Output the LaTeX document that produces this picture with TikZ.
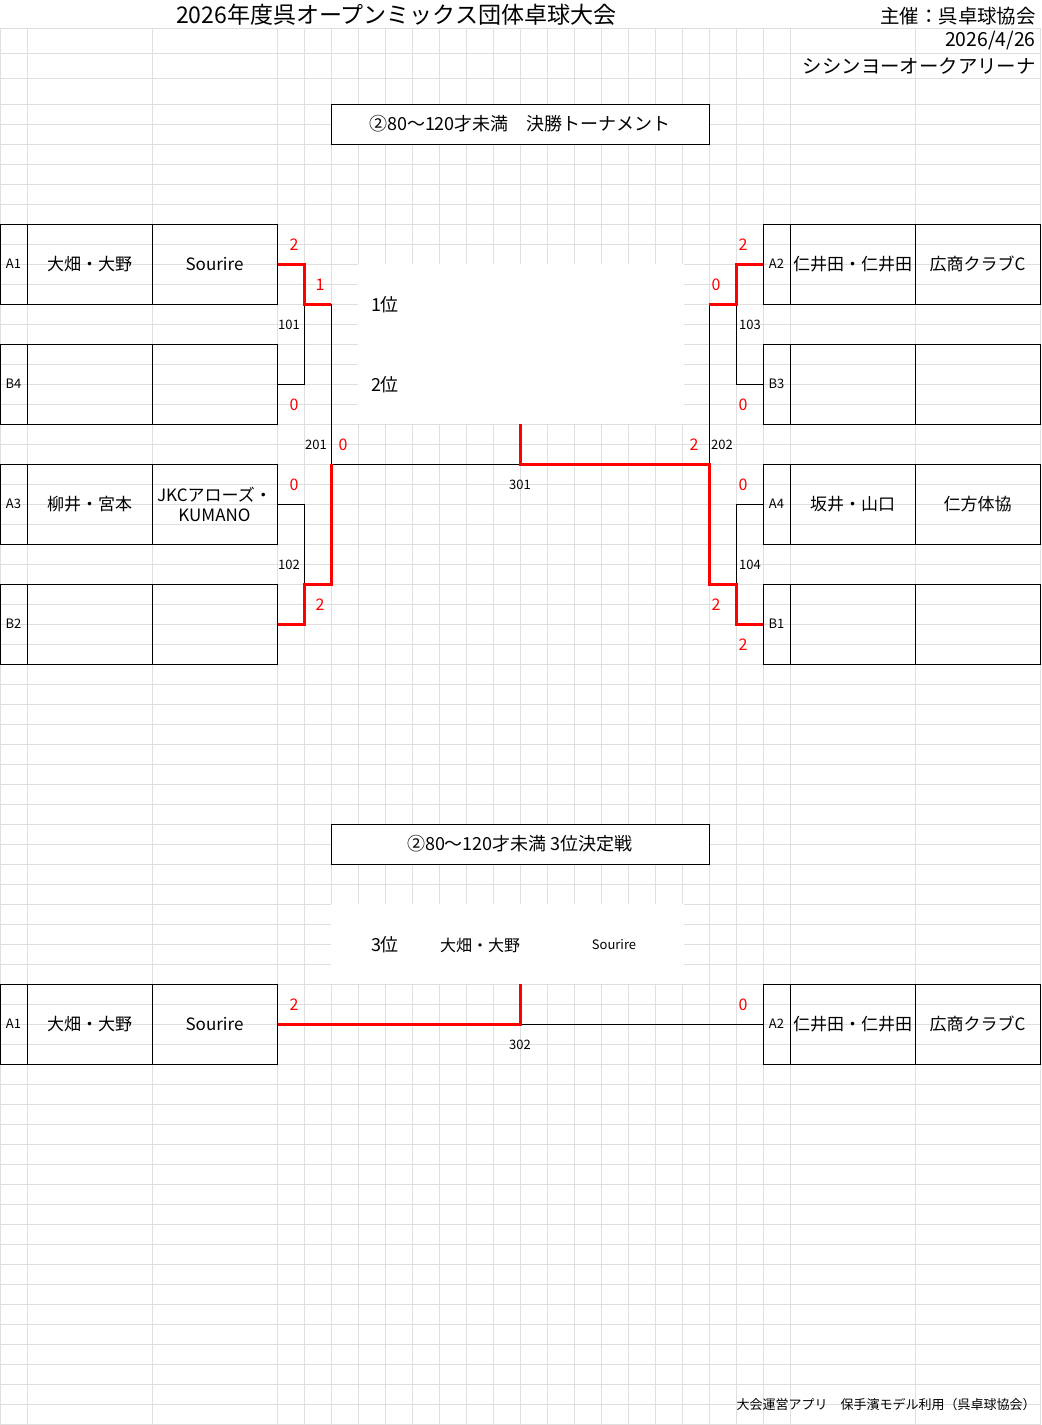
\documentclass[tikz,border=0pt]{standalone}
\usepackage{fontspec}
\setmainfont{Noto Sans CJK JP}
\usetikzlibrary{positioning}
\tikzset{
  grid line/.style={gray!25, line width=0.5pt},
  cell/.style={draw=black, line width=0.5pt, rectangle, inner sep=0pt,
    minimum height=40pt, font=\fontsize{8.5}{10}\selectfont, align=center},
  tag/.style={font=\fontsize{6.5}{7}\selectfont, inner sep=0pt},
  score/.style={font=\fontsize{8}{9}\selectfont, text=red, inner sep=0pt},
  lose/.style={draw=black, line width=0.5pt},
  win/.style={draw=red, line width=1.5pt},
  heading/.style={draw=black, line width=0.5pt, fill=white, minimum width=189pt,
    minimum height=20pt, font=\fontsize{9}{10}\selectfont},
  info/.style={font=\fontsize{9.7}{10}\selectfont, anchor=east, inner sep=0pt}
}
% #1 id, #2 left x, #3 top y, #4 seed, #5 players, #6 club
\newcommand\teamrow[6]{%
  \node[cell, minimum width=13.5pt, tag] (#1l) at (#2+13.5,#3+40) {#4};
  \node[cell, minimum width=62.5pt] (#1n) at (#2+89.5,#3+40) {#5};
  \node[cell, minimum width=62.5pt] (#1c) at (#2+214.5,#3+40) {#6};
}
\begin{document}
\begin{tikzpicture}[x=0.5pt,y=-0.5pt]
\useasboundingbox (0,0) rectangle (1041,1425);
\fill[white] (0,0) rectangle (1041,1425);
% grid
\foreach \y in {28,53,78} \draw[grid line] (0,\y) -- (1041,\y);
\foreach \y in {104,124,...,1424} \draw[grid line] (0,\y) -- (1041,\y);
\foreach \x in {0,27,152,277,304,...,736,763,790,915,1040} \draw[grid line] (\x,28) -- (\x,1425);
\fill[white] (358,264) rectangle (684,424);
\fill[white] (331,904) rectangle (684,984);

% header
\node[font=\fontsize{11.5}{12}\selectfont] (title) at (396,15) {2026年度呉オープンミックス団体卓球大会};
\node[info] (host) at (1036,16) {主催：呉卓球協会};
\node[info] (date) at (1036,41) {2026/4/26};
\node[info] (venue) at (1036,66) {シシンヨーオークアリーナ};
\node[heading] (head1) at (520,124) {②80～120才未満　決勝トーナメント};

% teams
\teamrow{a1}{0}{224}{A1}{大畑・大野}{Sourire}
\teamrow{b4}{0}{344}{B4}{}{}
\teamrow{a3}{0}{464}{A3}{柳井・宮本}{JKCアローズ・\\KUMANO}
\teamrow{b2}{0}{584}{B2}{}{}
\teamrow{a2}{763}{224}{A2}{仁井田・仁井田}{広商クラブC}
\teamrow{b3}{763}{344}{B3}{}{}
\teamrow{a4}{763}{464}{A4}{坂井・山口}{仁方体協}
\teamrow{b1}{763}{584}{B1}{}{}

% junctions
\coordinate (m101) at (304,304);
\coordinate (m102) at (304,584);
\coordinate (w101) at (331,304);
\coordinate (w102) at (331,584);
\coordinate (m201) at (331,464);
\coordinate (m103) at (736,304);
\coordinate (m104) at (736,584);
\coordinate (w103) at (709,304);
\coordinate (w104) at (709,584);
\coordinate (m202) at (709,464);
\coordinate (f301) at (520,464);
\coordinate (t301) at (520,424);

% left side
\draw[lose] (b4c.east) -| (m101);
\draw[lose] (a3c.east) -| (m102);
\draw[lose] (w101) -- (m201) -- (f301);
\draw[win] (a1c.east) -| (m101) -- (w101);
\draw[win] (b2c.east) -| (m102) -- (w102) -- (m201);
% right side
\draw[lose] (b3l.west) -| (m103);
\draw[lose] (a4l.west) -| (m104);
\draw[lose] (w103) -- (m202);
\draw[win] (a2l.west) -| (m103) -- (w103);
\draw[win] (b1l.west) -| (m104) -- (w104) -- (m202) -- (f301) -- (t301);

% labels
\node[score] at (294,245) {2};
\node[score] at (320,285) {1};
\node[score] at (294,405) {0};
\node[score] at (343,445) {0};
\node[score] at (294,485) {0};
\node[score] at (320,605) {2};
\node[score] at (743,245) {2};
\node[score] at (716,285) {0};
\node[score] at (743,405) {0};
\node[score] at (694,445) {2};
\node[score] at (743,485) {0};
\node[score] at (716,605) {2};
\node[score] at (743,645) {2};
\node[tag] at (289,325) {101};
\node[tag] at (289,565) {102};
\node[tag] at (750,325) {103};
\node[tag] at (750,565) {104};
\node[tag] at (316,445) {201};
\node[tag] at (722,445) {202};
\node[tag] at (520,485) {301};
\node[font=\fontsize{9}{10}\selectfont] (first) at (385,305) {1位};
\node[font=\fontsize{9}{10}\selectfont] (second) at (385,385) {2位};

% third place
\node[heading] (head2) at (520,844) {②80～120才未満  3位決定戦};
\node[font=\fontsize{9}{10}\selectfont] (third) at (385,945) {3位};
\node[font=\fontsize{8}{9}\selectfont] (thirdn) at (480,945) {大畑・大野};
\node[tag] (thirdc) at (614,945) {Sourire};
\teamrow{c1}{0}{984}{A1}{大畑・大野}{Sourire}
\teamrow{c2}{763}{984}{A2}{仁井田・仁井田}{広商クラブC}
\coordinate (f302) at (520,1024);
\coordinate (t302) at (520,984);
\draw[lose] (f302) -- (c2l.west);
\draw[win] (c1c.east) -- (f302) -- (t302);
\node[score] at (294,1005) {2};
\node[score] at (743,1005) {0};
\node[tag] at (520,1045) {302};

\node[tag, anchor=east] (credit) at (1036,1405) {大会運営アプリ　保手濱モデル利用（呉卓球協会）};
\end{tikzpicture}
\end{document}
